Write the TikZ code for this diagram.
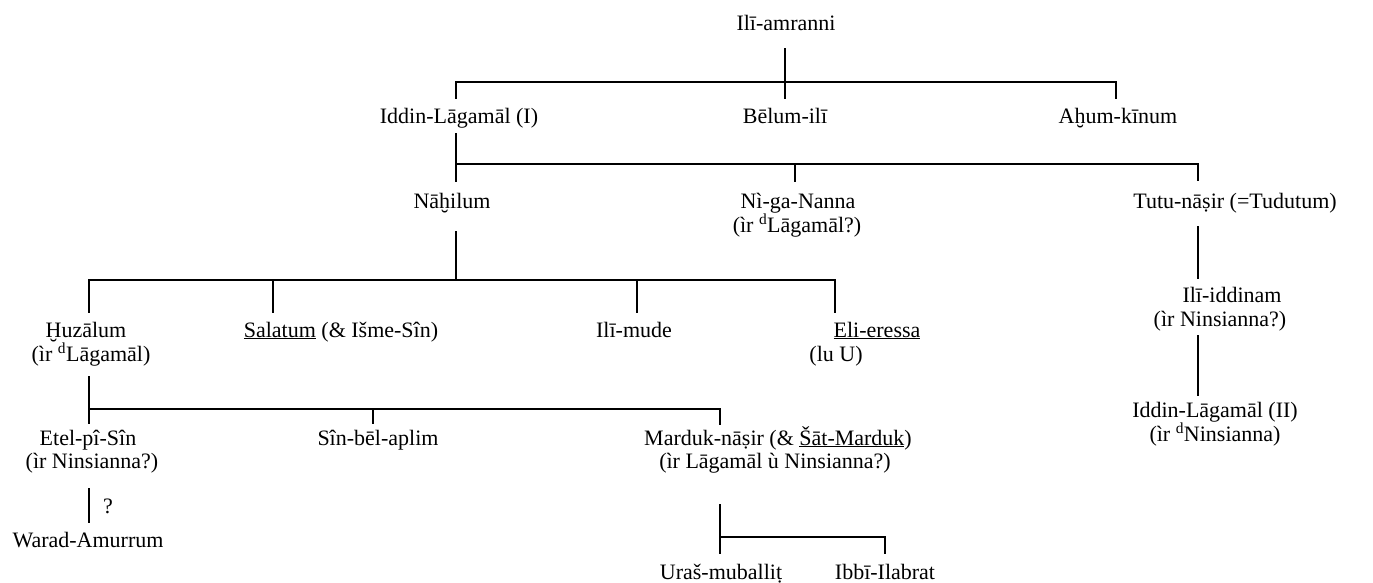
\documentclass[tikz,border=0pt]{standalone}
\usepackage{fontspec}
\setmainfont{Liberation Serif}
\begin{document}
\begin{tikzpicture}[x=1pt,y=-1pt,
  lbl/.style={anchor=base,inner sep=0pt,font=\fontsize{22}{26}\selectfont},
  tree/.style={line width=1.6pt,line cap=rect}]
\useasboundingbox (0,0) rectangle (1373,583);
% names
\node[lbl] (ilia) at (786,31) {Ilī-amranni};
\node[lbl] (iddin1) at (459,124) {Iddin-Lāgamāl (I)};
\node[lbl] (belum) at (785,124) {Bēlum-ilī};
\node[lbl] (ahum) at (1118,124) {Aḫum-kīnum};
\node[lbl] (nahilum) at (452,208) {Nāḫilum};
\node[lbl] (niga) at (798,208) {Nì-ga-Nanna};
\node[lbl] (niga2) at (797,232) {(ìr \textsuperscript{d}Lāgamāl?)};
\node[lbl] (tutu) at (1235,208) {Tutu-nāṣir (=Tudutum)};
\node[lbl] (iliid) at (1232,302) {Ilī-iddinam};
\node[lbl] (iliid2) at (1220,326) {(ìr Ninsianna?)};
\node[lbl] (iddin2) at (1215,417) {Iddin-Lāgamāl (II)};
\node[lbl] (iddin22) at (1215,441) {(ìr \textsuperscript{d}Ninsianna)};
\node[lbl] (huz) at (86,337) {Ḫuzālum};
\node[lbl] (huz2) at (91,361) {(ìr \textsuperscript{d}Lāgamāl)};
\node[lbl] (sal) at (341,337) {\underline{Salatum} (\& Išme-Sîn)};
\node[lbl] (ilimude) at (634,337) {Ilī-mude};
\node[lbl] (eli) at (877,337) {\underline{Eli-eressa}};
\node[lbl] (eli2) at (836,361) {(lu U)};
\node[lbl] (etel) at (88,445) {Etel-pî-Sîn};
\node[lbl] (etel2) at (92,468) {(ìr Ninsianna?)};
\node[lbl] (q) at (108,513) {?};
\node[lbl] (warad) at (88,547) {Warad-Amurrum};
\node[lbl] (sinbel) at (378,445) {Sîn-bēl-aplim};
\node[lbl] (marduk) at (778,445) {Marduk-nāṣir (\& \underline{Šāt-Marduk})};
\node[lbl] (marduk2) at (775,468) {(ìr Lāgamāl ù Ninsianna?)};
\node[lbl] (uras) at (721,579) {Uraš-muballiṭ};
\node[lbl] (ibbi) at (885,579) {Ibbī-Ilabrat};
% junction coordinates
\coordinate (b1) at (785,82);
\coordinate (b1l) at (456,82);
\coordinate (b1r) at (1116,82);
\coordinate (b2) at (456,164);
\coordinate (b2r) at (1198,164);
\coordinate (b3) at (456,280);
\coordinate (b3l) at (89,280);
\coordinate (b3r) at (835,280);
\coordinate (b4) at (89,409);
\coordinate (b4r) at (720,409);
\coordinate (b5) at (720,537);
\coordinate (b5r) at (885,537);
% generation 1
\draw[tree] (785,49) -- (785,98);
\draw[tree] (b1l) -- (b1r);
\draw[tree] (b1l) -- (456,98);
\draw[tree] (b1r) -- (1116,98);
% generation 2
\draw[tree] (456,134) -- (b2);
\draw[tree] (b2) -- (b2r);
\draw[tree] (b2) -- (456,181);
\draw[tree] (795,164) -- (795,181);
\draw[tree] (b2r) -- (1198,180);
% Tutu line
\draw[tree] (1198,227) -- (1198,278);
\draw[tree] (1198,336) -- (1198,395);
% generation 3
\draw[tree] (456,232) -- (b3);
\draw[tree] (b3l) -- (b3r);
\draw[tree] (b3l) -- (89,312);
\draw[tree] (273,280) -- (273,312);
\draw[tree] (637,280) -- (637,312);
\draw[tree] (b3r) -- (835,312);
% generation 4
\draw[tree] (89,377) -- (b4);
\draw[tree] (b4) -- (b4r);
\draw[tree] (b4) -- (89,423);
\draw[tree] (373,409) -- (373,423);
\draw[tree] (b4r) -- (720,424);
% generation 5
\draw[tree] (89,489) -- (89,522);
\draw[tree] (720,505) -- (b5);
\draw[tree] (b5) -- (b5r);
\draw[tree] (b5) -- (720,553);
\draw[tree] (b5r) -- (885,553);
\end{tikzpicture}
\end{document}
